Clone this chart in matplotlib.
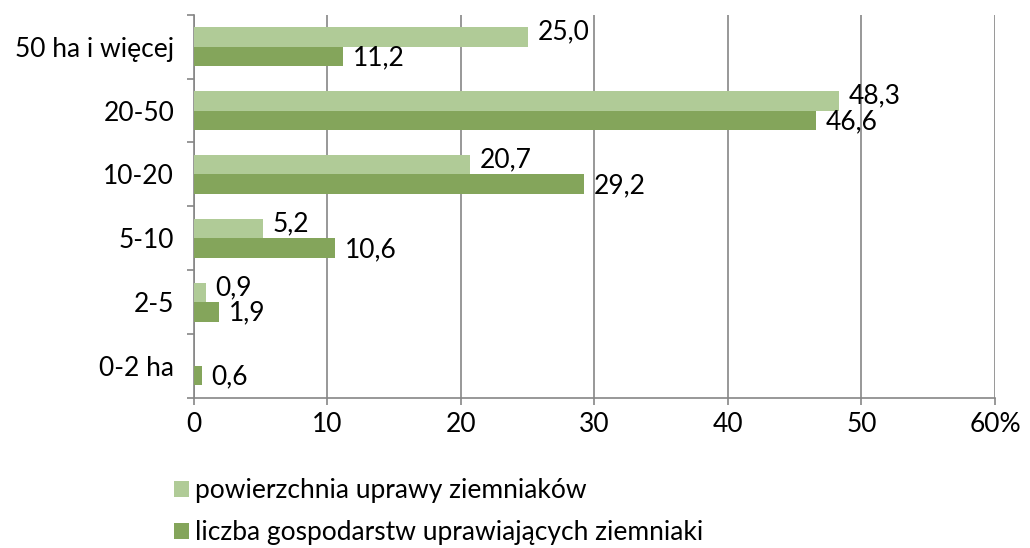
import matplotlib.pyplot as plt
import numpy as np

plt.rcParams['font.family'] = ['Lato', 'DejaVu Sans']

categories = ['0-2 ha', '2-5', '5-10', '10-20', '20-50', '50 ha i więcej']
powierzchnia = [0.0, 0.9, 5.2, 20.7, 48.3, 25.0]
liczba = [0.6, 1.9, 10.6, 29.2, 46.6, 11.2]
x_ticks = [0, 10, 20, 30, 40, 50, 60]
x_labels = ['0', '10', '20', '30', '40', '50', '60%']

c_light = '#B0CB97'
c_dark = '#84A55B'
grid_c = '#868686'

fig = plt.figure(figsize=(10.30, 5.48), dpi=100)
ax = fig.add_axes([0.188, 0.274, 0.778, 0.699])

y = np.arange(len(categories))
h = 0.305
b1 = ax.barh(y + h / 2, powierzchnia, height=h, color=c_light,
             label='powierzchnia uprawy ziemniaków', zorder=3)
b2 = ax.barh(y - h / 2, liczba, height=h, color=c_dark,
             label='liczba gospodarstw uprawiających ziemniaki', zorder=3)

# light labels sit a little higher than their bars, as in the original
for bars, vals, dy in ((b1, powierzchnia, 3.5), (b2, liczba, -1)):
    for bar, v in zip(bars, vals):
        if v <= 0:
            continue
        ax.annotate(f'{v:.1f}'.replace('.', ','),
                    (v, bar.get_y() + bar.get_height() / 2),
                    xytext=(7, dy), textcoords='offset points',
                    ha='left', va='center', fontsize=19)

ax.set_xlim(0, 60)
ax.set_ylim(-0.5, len(categories) - 0.5)
ax.set_xticks(x_ticks)
ax.set_xticklabels(x_labels, fontsize=19)
ax.set_yticks(y)
ax.set_yticklabels(categories, fontsize=19)
ax.set_yticks(np.arange(len(categories) + 1) - 0.5, minor=True)

ax.grid(axis='x', color=grid_c, linewidth=1.2, zorder=0)
for s in ('top', 'right'):
    ax.spines[s].set_visible(False)
ax.spines['left'].set_color(grid_c)
ax.spines['bottom'].set_color(grid_c)
ax.spines['left'].set_linewidth(1.2)
ax.spines['bottom'].set_linewidth(1.2)
ax.tick_params(axis='y', which='major', length=0, pad=14)
ax.tick_params(axis='y', which='minor', length=5, color=grid_c, width=1.2)
ax.tick_params(axis='x', length=5, color=grid_c, width=1.2, pad=5)

fig.legend(handles=[b1, b2], loc='upper left', bbox_to_anchor=(0.169, 0.127),
           frameon=False, fontsize=19, ncol=1, handlelength=0.55,
           handleheight=0.55, handletextpad=0.25, labelspacing=0.64,
           borderaxespad=0, borderpad=0)

fig.savefig('out.png', dpi=100)
